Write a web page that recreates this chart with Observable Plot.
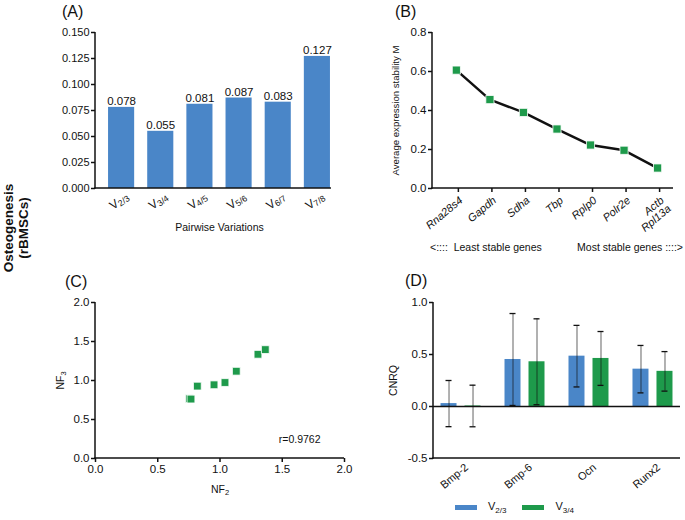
<!DOCTYPE html>
<html><head><meta charset="utf-8">
<script src="https://cdn.jsdelivr.net/npm/d3@7"></script>
<script src="https://cdn.jsdelivr.net/npm/@observablehq/plot@0.6"></script>
<style>
body{margin:0;background:#fff;font-family:"Liberation Sans",Arial,sans-serif;color:#111;}
#root{position:relative;width:685px;height:520px;overflow:hidden;background:#fff;}
.tag{position:absolute;font-size:16px;line-height:16px;color:#111;}
.note{position:absolute;font-size:10.5px;line-height:12px;white-space:pre;color:#111;}
.side{position:absolute;width:120px;height:32px;text-align:center;font-weight:bold;font-size:13.5px;line-height:15px;transform:rotate(-90deg);color:#111;}
.legend{position:absolute;display:flex;align-items:center;font-size:11px;color:#111;}
.sw{display:inline-block;width:22px;height:5px;margin-right:11px;}
.legend sub{font-size:8px;}
</style></head><body><div id="root"></div>
<script>
// ---------- data ----------
const pairLabels = ["V2/3", "V3/4", "V4/5", "V5/6", "V6/7", "V7/8"];
const pairValues = [0.078, 0.055, 0.081, 0.087, 0.083, 0.127];
const yTicksA = [0, 0.025, 0.05, 0.075, 0.1, 0.125, 0.15];

const genes = ["Rna28s4", "Gapdh", "Sdha", "Tbp", "Rplp0", "Polr2e", "Actb\nRpl13a"];
const stabilityM = [0.607, 0.456, 0.390, 0.305, 0.223, 0.196, 0.105];
const yTicksB = [0, 0.2, 0.4, 0.6, 0.8];

const nf2 = [0.754, 0.767, 0.818, 0.952, 1.040, 1.131, 1.305, 1.364];
const nf3 = [0.766, 0.762, 0.928, 0.945, 0.974, 1.119, 1.336, 1.396];
const ticksC = [0, 0.5, 1, 1.5, 2];
const rText = "r=0.9762";

const targetGenes = ["Bmp-2", "Bmp-6", "Ocn", "Runx2"];
const seriesNames = ["V2/3", "V3/4"];
const cnrqV23 = [0.028, 0.452, 0.484, 0.359];
const sdV23 = [0.222, 0.442, 0.296, 0.228];
const cnrqV34 = [0.005, 0.430, 0.462, 0.338];
const sdV34 = [0.200, 0.413, 0.259, 0.190];
const yTicksD = [-0.5, 0, 0.5, 1];

// ---------- helpers ----------
const BLUE = "#4a86c8", GREEN = "#1e9a4b", INK = "#111";
const FONT = "Liberation Sans, Arial, sans-serif";
const root = document.getElementById("root");
const baseStyle = {fontFamily: FONT, fontSize: "11px", color: INK, background: "transparent", overflow: "visible"};

function place(el, left, top) {
  el.style.position = "absolute"; el.style.left = left + "px"; el.style.top = top + "px";
  root.appendChild(el); return el;
}
function div(cls, html, left, top) {
  const d = document.createElement("div"); d.className = cls; d.innerHTML = html;
  return place(d, left, top);
}
// axis lines drawn from the plot's own scales; xEnd optionally overrides the bottom line's end
function axisLines(svg, xEnd) {
  const x = svg.scale("x"), y = svg.scale("y");
  const xr = d3.extent(x.range), yr = d3.extent(y.range);
  const g = d3.select(svg).append("g").attr("stroke", INK).attr("stroke-width", 1.5);
  g.append("line").attr("x1", xr[0]).attr("x2", xr[0]).attr("y1", yr[0]).attr("y2", yr[1] + 0.75);
  g.append("line").attr("x1", xr[0] - 0.75).attr("x2", xEnd ?? xr[1]).attr("y1", yr[1]).attr("y2", yr[1]);
}
function setText(el, base, sub, shift = "0.3em") {
  const t = d3.select(el); t.text(null);
  t.append("tspan").text(base);
  if (sub) t.append("tspan").attr("font-size", "0.72em").attr("dy", shift).text(sub);
}
function label(svg, which, base, sub, size) {
  d3.select(svg).selectAll(`g[aria-label="${which}-axis label"] text`).each(function() {
    setText(this, base, sub); d3.select(this).attr("font-size", size);
  });
}

// ---------- Panel A ----------
const rowsA = pairLabels.map((p, i) => ({pair: p, v: pairValues[i]}));
const A = Plot.plot({
  width: 345, height: 240, marginLeft: 95, marginRight: 2, marginTop: 32, marginBottom: 52,
  style: baseStyle,
  x: {domain: pairLabels, paddingInner: 1 / 3, paddingOuter: 1 / 3, round: false},
  y: {domain: [0, 0.15]},
  marks: [
    Plot.barY(rowsA, {x: "pair", y: "v", fill: BLUE}),
    Plot.text(rowsA, {x: "pair", y: "v", text: d => d.v.toFixed(3), dy: -2, lineAnchor: "bottom", fontSize: 11.5}),
    Plot.axisY({ticks: yTicksA, tickFormat: d => d.toFixed(3), tickSize: 4, tickPadding: 2, strokeWidth: 1.5, label: null, fontSize: 11}),
    Plot.axisX({tickSize: 0, tickRotate: -35, textAnchor: "end", lineAnchor: "top", tickPadding: 3, dx: 3, fontSize: 12,
                label: "Pairwise Variations", labelAnchor: "center", labelOffset: 42})
  ]
});
{
  const sx = A.scale("x");
  axisLines(A, sx.apply(pairLabels[pairLabels.length - 1]) + sx.bandwidth + 1);
}
d3.select(A).selectAll('g[aria-label="x-axis tick label"] text').each(function() {
  const s = d3.select(this).text(); setText(this, s.slice(0, 1), s.slice(1), "0.18em");
});
label(A, "x", "Pairwise Variations", null, "10.5px");
place(A, 0, 0);

// ---------- Panel B ----------
const rowsB = genes.map((g, i) => ({gene: g, m: stabilityM[i]}));
const B = Plot.plot({
  width: 345, height: 260, marginLeft: 92, marginRight: 12, marginTop: 32, marginBottom: 72,
  style: baseStyle,
  x: {type: "point", domain: genes, padding: 0.593, align: 0.6, round: false},
  y: {domain: [0, 0.8]},
  marks: [
    Plot.line(rowsB, {x: "gene", y: "m", stroke: INK, strokeWidth: 2.5}),
    Plot.dot(rowsB, {x: "gene", y: "m", symbol: "square", fill: GREEN, stroke: "white", strokeWidth: 0.8, r: 4.6}),
    Plot.axisY({ticks: yTicksB, tickFormat: d => d.toFixed(1), tickSize: 4, tickPadding: 2, strokeWidth: 1.5, fontSize: 11.5,
                label: "Average expression stability M", labelAnchor: "center", labelOffset: 40}),
    Plot.axisX({tickSize: 4, strokeWidth: 1.5, tickRotate: -40, textAnchor: "end", lineAnchor: "top", tickPadding: 3, dx: 2, fontSize: 11, label: null})
  ]
});
axisLines(B);
d3.select(B).selectAll('g[aria-label="x-axis tick label"] text').attr("font-style", "italic");
label(B, "y", "Average expression stability M", null, "9.6px");
place(B, 340, 0);

// ---------- Panel C ----------
const rowsC = nf2.map((x, i) => ({nf2: x, nf3: nf3[i]}));
const C = Plot.plot({
  width: 360, height: 250, marginLeft: 95, marginRight: 16, marginTop: 32, marginBottom: 62,
  style: baseStyle,
  x: {domain: [0, 2]},
  y: {domain: [0, 2]},
  marks: [
    Plot.dot(rowsC, {x: "nf2", y: "nf3", symbol: "square", fill: GREEN, stroke: "white", strokeWidth: 0.8, r: 4.4}),
    Plot.text([rText], {text: d => d, frameAnchor: "bottom-right", textAnchor: "end", dx: -24, dy: -16, fontSize: 10.5}),
    Plot.axisY({ticks: ticksC, tickFormat: d => d.toFixed(1), tickSize: 4, tickPadding: 2, strokeWidth: 1.5, fontSize: 11.5,
                label: "NF3", labelAnchor: "center", labelOffset: 39}),
    Plot.axisX({ticks: ticksC, tickFormat: d => d.toFixed(1), tickSize: 4, tickPadding: 2, strokeWidth: 1.5, fontSize: 11.5,
                label: "NF2", labelAnchor: "center", labelOffset: 34})
  ]
});
axisLines(C);
label(C, "y", "NF", "3", "10.5px");
label(C, "x", "NF", "2", "10.5px");
place(C, 0, 270);

// ---------- Panel D ----------
const rows23 = targetGenes.map((g, i) => ({gene: g, v: cnrqV23[i], sd: sdV23[i]}));
const rows34 = targetGenes.map((g, i) => ({gene: g, v: cnrqV34[i], sd: sdV34[i]}));
function errMarks(rows, dx) {
  return [
    Plot.ruleX(rows, {x: "gene", y1: d => d.v - d.sd, y2: d => d.v + d.sd, dx, stroke: INK, strokeOpacity: 0.5, strokeWidth: 1.3}),
    Plot.tickY(rows, {x: "gene", y: d => d.v + d.sd, dx, insetLeft: 5, insetRight: 5, stroke: INK, strokeWidth: 1.3}),
    Plot.tickY(rows, {x: "gene", y: d => d.v - d.sd, dx, insetLeft: 5, insetRight: 5, stroke: INK, strokeWidth: 1.3})
  ];
}
const D = Plot.plot({
  width: 345, height: 250, marginLeft: 93, marginRight: 5, marginTop: 32, marginBottom: 62,
  style: baseStyle,
  x: {domain: targetGenes, paddingInner: 0.75, paddingOuter: 0.305, round: false},
  y: {domain: [-0.5, 1]},
  marks: [
    Plot.barY(rows23, {x: "gene", y: "v", fill: BLUE, dx: -12}),
    Plot.barY(rows34, {x: "gene", y: "v", fill: GREEN, dx: 12}),
    Plot.ruleY([0], {stroke: INK, strokeWidth: 1.5}),
    ...errMarks(rows23, -12),
    ...errMarks(rows34, 12),
    Plot.axisY({ticks: yTicksD, tickFormat: d => d.toFixed(1), tickSize: 4, tickPadding: 2, strokeWidth: 1.5, fontSize: 11.5,
                label: "CNRQ", labelAnchor: "center", labelOffset: 44}),
    Plot.axisX({tickSize: 0, tickRotate: -40, textAnchor: "end", lineAnchor: "top", tickPadding: 4, dx: 3, fontSize: 11, label: null})
  ]
});
axisLines(D);
label(D, "y", "CNRQ", null, "10.5px");
place(D, 340, 270);

// ---------- HTML text ----------
div("tag", "(A)", 62, 3.5);
div("tag", "(B)", 395, 3.5);
div("tag", "(C)", 65, 273.5);
div("tag", "(D)", 405, 273);
div("side", "Osteogenesis<br>(rBMSCs)", 17 - 60, 228 - 16);
div("note", "&lt;::::  Least stable genes", 430, 241);
const most = div("note", "Most stable genes ::::&gt;", 0, 241);
most.style.left = "auto"; most.style.right = "2px";
div("legend",
  `<span class="sw" style="background:${BLUE}"></span><span>V<sub>${seriesNames[0].slice(1)}</sub></span>` +
  `<span class="sw" style="background:${GREEN};margin-left:16px"></span><span>V<sub>${seriesNames[1].slice(1)}</sub></span>`,
  455, 500);
</script></body></html>
